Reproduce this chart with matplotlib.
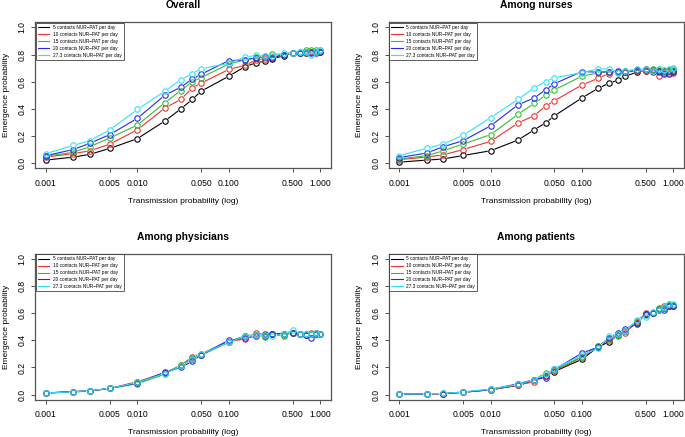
import matplotlib
matplotlib.use("Agg")
import matplotlib.pyplot as plt

plt.rcParams['font.family'] = ['Liberation Sans', 'DejaVu Sans']

# Transmission probabilities (x values)
trans_prob = [0.001, 0.002, 0.003, 0.005, 0.01, 0.02, 0.03, 0.04, 0.05, 0.1,
              0.15, 0.2, 0.25, 0.3, 0.4, 0.5, 0.6, 0.7, 0.8, 0.9, 1.0]

series_labels = ["5 contacts NUR\u2212PAT per day", "10 contacts NUR\u2212PAT per day",
                 "15 contacts NUR\u2212PAT per day", "20 contacts NUR\u2212PAT per day",
                 "27.3 contacts NUR\u2212PAT per day"]
series_colors = ["black", "#F03030", "#30C030", "#2828F0", "#30E0F8"]

xtick_values = [0.001, 0.005, 0.010, 0.050, 0.100, 0.500, 1.000]
xtick_labels = ["0.001", "0.005", "0.010", "0.050", "0.100", "0.500", "1.000"]
ytick_values = [0.0, 0.2, 0.4, 0.6, 0.8, 1.0]

panel_titles = ["Overall", "Among nurses", "Among physicians", "Among patients"]

overall = [
    [0.022, 0.044, 0.064, 0.108, 0.18, 0.31, 0.40, 0.47, 0.53, 0.64, 0.71, 0.74, 0.75, 0.77, 0.79, 0.81, 0.81, 0.81, 0.82, 0.82, 0.82],
    [0.045, 0.07, 0.09, 0.14, 0.245, 0.405, 0.47, 0.555, 0.59, 0.69, 0.72, 0.76, 0.77, 0.78, 0.80, 0.81, 0.815, 0.81, 0.82, 0.82, 0.82],
    [0.05, 0.08, 0.12, 0.185, 0.28, 0.445, 0.535, 0.60, 0.63, 0.73, 0.76, 0.78, 0.79, 0.805, 0.80, 0.815, 0.82, 0.83, 0.83, 0.835, 0.835],
    [0.055, 0.10, 0.145, 0.21, 0.33, 0.50, 0.56, 0.62, 0.655, 0.755, 0.76, 0.775, 0.78, 0.775, 0.80, 0.815, 0.815, 0.82, 0.81, 0.815, 0.82],
    [0.07, 0.13, 0.165, 0.245, 0.395, 0.53, 0.615, 0.66, 0.695, 0.735, 0.78, 0.795, 0.79, 0.79, 0.81, 0.815, 0.82, 0.82, 0.80, 0.82, 0.83],
]
nurses = [
    [0.007, 0.022, 0.03, 0.056, 0.091, 0.17, 0.245, 0.296, 0.348, 0.48, 0.55, 0.59, 0.61, 0.64, 0.67, 0.68, 0.685, 0.68, 0.68, 0.68, 0.68],
    [0.025, 0.045, 0.06, 0.10, 0.16, 0.295, 0.35, 0.42, 0.46, 0.575, 0.625, 0.66, 0.67, 0.67, 0.68, 0.68, 0.685, 0.645, 0.665, 0.665, 0.665],
    [0.03, 0.055, 0.09, 0.14, 0.21, 0.36, 0.44, 0.50, 0.54, 0.64, 0.665, 0.67, 0.675, 0.68, 0.685, 0.69, 0.69, 0.69, 0.675, 0.685, 0.695],
    [0.04, 0.075, 0.12, 0.165, 0.275, 0.43, 0.48, 0.54, 0.585, 0.675, 0.67, 0.675, 0.68, 0.675, 0.685, 0.69, 0.675, 0.675, 0.655, 0.655, 0.67],
    [0.055, 0.11, 0.14, 0.205, 0.335, 0.47, 0.555, 0.60, 0.63, 0.665, 0.695, 0.695, 0.665, 0.68, 0.69, 0.695, 0.68, 0.69, 0.685, 0.69, 0.70],
]
physicians = [
    [0.012, 0.02, 0.027, 0.045, 0.09, 0.16, 0.21, 0.265, 0.295, 0.39, 0.43, 0.44, 0.43, 0.45, 0.445, 0.455, 0.445, 0.44, 0.45, 0.455, 0.445],
    [0.012, 0.022, 0.028, 0.045, 0.095, 0.16, 0.215, 0.28, 0.30, 0.39, 0.41, 0.455, 0.44, 0.445, 0.44, 0.455, 0.45, 0.445, 0.455, 0.455, 0.45],
    [0.012, 0.018, 0.027, 0.045, 0.08, 0.15, 0.22, 0.27, 0.29, 0.385, 0.435, 0.44, 0.425, 0.445, 0.43, 0.455, 0.45, 0.445, 0.45, 0.45, 0.45],
    [0.012, 0.022, 0.028, 0.045, 0.085, 0.165, 0.20, 0.245, 0.295, 0.40, 0.415, 0.43, 0.45, 0.45, 0.45, 0.455, 0.445, 0.44, 0.415, 0.45, 0.45],
    [0.012, 0.02, 0.03, 0.045, 0.09, 0.155, 0.21, 0.265, 0.30, 0.385, 0.43, 0.44, 0.44, 0.435, 0.445, 0.475, 0.45, 0.445, 0.45, 0.455, 0.45],
]
patients = [
    [0.003, 0.005, 0.007, 0.017, 0.035, 0.068, 0.105, 0.135, 0.17, 0.26, 0.35, 0.39, 0.44, 0.47, 0.53, 0.595, 0.60, 0.63, 0.635, 0.655, 0.65],
    [0.003, 0.005, 0.007, 0.018, 0.036, 0.07, 0.095, 0.14, 0.175, 0.275, 0.355, 0.405, 0.445, 0.455, 0.535, 0.60, 0.60, 0.625, 0.65, 0.66, 0.655],
    [0.003, 0.006, 0.008, 0.017, 0.037, 0.075, 0.11, 0.16, 0.18, 0.28, 0.355, 0.41, 0.43, 0.47, 0.545, 0.585, 0.605, 0.635, 0.64, 0.665, 0.66],
    [0.003, 0.005, 0.007, 0.017, 0.038, 0.08, 0.11, 0.125, 0.185, 0.305, 0.35, 0.415, 0.455, 0.485, 0.52, 0.595, 0.605, 0.62, 0.62, 0.655, 0.655],
    [0.004, 0.006, 0.008, 0.02, 0.04, 0.075, 0.11, 0.15, 0.19, 0.29, 0.34, 0.43, 0.45, 0.465, 0.55, 0.575, 0.61, 0.625, 0.645, 0.67, 0.665],
]
panels = [overall, nurses, physicians, patients]

W, H = 685, 437
fig = plt.figure(figsize=(W / 100, H / 100), dpi=100)

# axes boxes in pixels: (left, top, right, bottom)
boxes = [(35, 22, 331, 168.5), (388.5, 22, 684, 168.5),
         (35, 253.5, 331, 400), (388.5, 253.5, 684, 400)]

for (l, t, r, b), title, data in zip(boxes, panel_titles, panels):
    ax = fig.add_axes([l / W, 1 - b / H, (r - l) / W, (b - t) / H])
    ax.set_xscale('log')
    for vals, col, lab in zip(data, series_colors, series_labels):
        ax.plot(trans_prob, vals, '-', color=col, lw=0.8, zorder=1, label=lab)
    for vals in data:
        ax.plot(trans_prob, vals, 'o', ms=5.4, mfc='white', mec='none', zorder=2)
    for vals, col in zip(data, series_colors):
        ax.plot(trans_prob, vals, 'o', ms=3.9, mfc='none', mec=col, mew=0.8, zorder=3)
    ax.set_xlim(0.001 / 10 ** (0.12), 1.0 * 10 ** 0.12)
    ax.set_ylim(-0.04, 1.04)
    ax.set_xticks(xtick_values)
    ax.set_xticklabels(xtick_labels)
    ax.minorticks_off()
    ax.set_yticks(ytick_values)
    ax.set_yticklabels([f"{v:.1f}" for v in ytick_values], rotation=90, va='center')
    ax.tick_params(axis='both', length=3, width=0.6, labelsize=6.2, color='#333333')
    ax.tick_params(axis='x', pad=4.5)
    ax.tick_params(axis='y', pad=3)
    for s in ax.spines.values():
        s.set_color('#555555')
        s.set_linewidth(0.9)
    ax.set_title(title, fontsize=7.4, fontweight='bold', pad=10)
    ax.set_xlabel("Transmission probability (log)", fontsize=6.0)
    ax.set_ylabel("Emergence probability", fontsize=6.0)
    ax.xaxis.set_label_coords(0.5, -0.2)
    ax.yaxis.set_label_coords(-0.086, 0.5)
    leg = ax.legend(loc='upper left', borderaxespad=0.12, fontsize=3.4, frameon=True,
                    fancybox=False, handlelength=2.4, handletextpad=0.8,
                    labelspacing=0.42, borderpad=0.45)
    leg.get_frame().set_edgecolor('#333333')
    leg.get_frame().set_linewidth(0.7)
    for line in leg.get_lines():
        line.set_linewidth(0.8)

fig.savefig("out.png", dpi=100)
